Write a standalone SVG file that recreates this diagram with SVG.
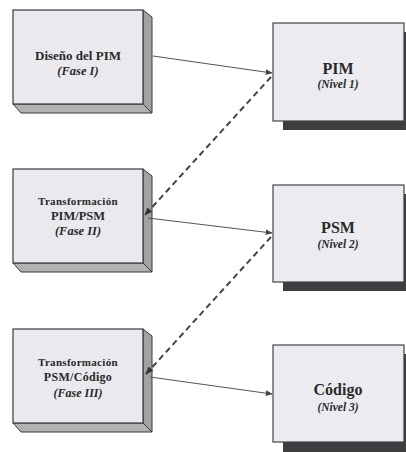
<svg xmlns="http://www.w3.org/2000/svg" width="406" height="452" viewBox="0 0 406 452">
<defs>
<style>
.front{fill:#e9e9ee;stroke:#3a3a3a;stroke-width:1.2}
.side{fill:#a2a2a4;stroke:#3a3a3a;stroke-width:1}
.bottom{fill:#b2b2b4;stroke:#3a3a3a;stroke-width:1}
.box{fill:#ececf0;stroke:#444;stroke-width:1.2}
.shadow{fill:#3e3e40}
text{font-family:"Liberation Serif","Times New Roman",serif;font-weight:bold;fill:#2a2a2a;text-anchor:middle}
.it{font-style:italic}
.solid{stroke:#555;stroke-width:1;fill:none}
.dash{stroke:#444;stroke-width:2;stroke-dasharray:6 4;fill:none}
</style>
<marker id="ah" viewBox="0 0 10 10" refX="9" refY="5" markerWidth="7" markerHeight="7" orient="auto" markerUnits="userSpaceOnUse">
<path d="M0,1 L10,5 L0,9 z" fill="#444"/>
</marker>
<marker id="ahd" viewBox="0 0 10 10" refX="9" refY="5" markerWidth="8" markerHeight="8" orient="auto" markerUnits="userSpaceOnUse">
<path d="M0,1 L10,5 L0,9 z" fill="#333"/>
</marker>
</defs>
<rect width="406" height="452" fill="#fff"/>

<g id="fase1">
<polygon class="side" points="143,10 152,17 152,113 143,104"/>
<polygon class="bottom" points="13,104 143,104 152,113 21,113"/>
<rect class="front" x="13" y="10" width="130" height="94"/>
<text x="78" y="60" font-size="13">Diseño del PIM</text>
<text class="it" x="78" y="75" font-size="12.5">(Fase I)</text>
</g>

<g id="fase2">
<polygon class="side" points="143,169 152,176 152,272 143,263"/>
<polygon class="bottom" points="13,263 143,263 152,272 21,272"/>
<rect class="front" x="13" y="169" width="130" height="94"/>
<text x="78" y="205" font-size="11" letter-spacing="0.3">Transformación</text>
<text x="78" y="220" font-size="12.5">PIM/PSM</text>
<text class="it" x="78" y="235" font-size="12.5">(Fase II)</text>
</g>

<g id="fase3">
<polygon class="side" points="143,329 152,336 152,432 143,423"/>
<polygon class="bottom" points="13,423 143,423 152,432 21,432"/>
<rect class="front" x="13" y="329" width="130" height="94"/>
<text x="78" y="366" font-size="11" letter-spacing="0.3">Transformación</text>
<text x="78" y="381" font-size="12" letter-spacing="0.3">PSM/Código</text>
<text class="it" x="78" y="397" font-size="12">(Fase III)</text>
</g>

<g id="pim">
<rect class="shadow" x="283" y="32" width="131" height="98"/>
<rect class="box" x="273" y="23" width="131" height="98"/>
<text x="338" y="74" font-size="16">PIM</text>
<text class="it" x="338" y="88" font-size="11.5">(Nivel 1)</text>
</g>

<g id="psm">
<rect class="shadow" x="283" y="194" width="131" height="97"/>
<rect class="box" x="273" y="185" width="131" height="97"/>
<text x="338" y="233" font-size="16">PSM</text>
<text class="it" x="338" y="248" font-size="11.5">(Nivel 2)</text>
</g>

<g id="codigo">
<rect class="shadow" x="283" y="354" width="131" height="98"/>
<rect class="box" x="273" y="345" width="131" height="97"/>
<text x="338" y="395" font-size="16">Código</text>
<text class="it" x="338" y="411" font-size="11.5">(Nivel 3)</text>
</g>

<g id="connectors">
<line class="solid" x1="153" y1="56" x2="272" y2="73" marker-end="url(#ah)"/>
<line class="dash" x1="271" y1="77" x2="145" y2="215" marker-end="url(#ahd)"/>
<line class="solid" x1="148" y1="218" x2="272" y2="233" marker-end="url(#ah)"/>
<line class="dash" x1="271" y1="237" x2="146" y2="374" marker-end="url(#ahd)"/>
<line class="solid" x1="150" y1="377" x2="272" y2="394" marker-end="url(#ah)"/>
</g>
</svg>
